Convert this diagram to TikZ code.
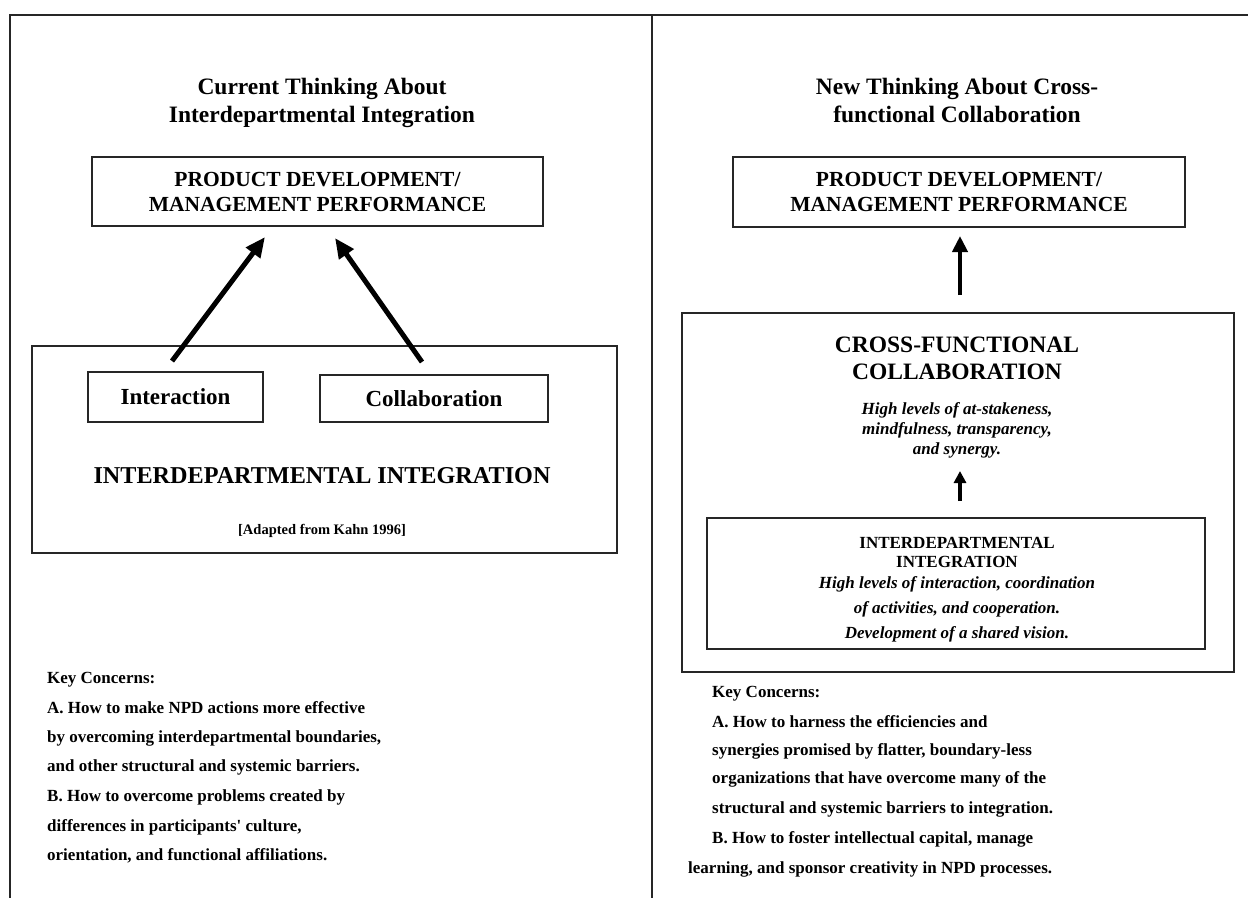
\documentclass[tikz,border=0pt]{standalone}
\usepackage{fontspec}
\setmainfont{Liberation Serif}
\usetikzlibrary{arrows.meta,calc}
\tikzset{
  frame/.style={line width=2pt, draw=black!85},
  box/.style={draw=black!85, line width=2pt, inner sep=0pt},
  ttl/.style={font=\bfseries\fontsize{23.5}{28}\selectfont, align=center, inner sep=0pt},
  pdt/.style={font=\bfseries\fontsize{21.5}{25}\selectfont, align=center},
  big/.style={font=\bfseries\fontsize{23.5}{27}\selectfont, align=center, inner sep=0pt},
  smallit/.style={font=\bfseries\itshape\fontsize{17}{20}\selectfont, align=center, inner sep=0pt},
  kc/.style={font=\bfseries\fontsize{17}{20}\selectfont, anchor=base west, inner sep=0pt},
  arr/.style={line width=5pt, -{Triangle[length=20pt,width=17pt]}},
  varr/.style={line width=4.5pt, -{Triangle[length=16pt,width=15pt]}},
  sarr/.style={line width=4pt, -{Triangle[length=12pt,width=12pt]}}
}
\begin{document}
\begin{tikzpicture}[x=1pt,y=1pt]
\useasboundingbox (0,0) rectangle (1248,-898);
% frame
\draw[frame] (9,-15) -- (1248,-15);
\draw[frame] (10,-15) -- (10,-898);
\draw[frame] (652,-15) -- (652,-898);

% ---------- left panel ----------
\node[ttl] (tl) at (322,-102.5) {\strut Current Thinking About\\\strut Interdepartmental Integration};
\node[box, pdt, minimum width=451pt, minimum height=69pt] (pdL) at (317.5,-191.5)
  {PRODUCT DEVELOPMENT/\\MANAGEMENT PERFORMANCE};
\node[box, minimum width=585pt, minimum height=207pt] (iiL) at (324.5,-449.5) {};
\node[box, font=\bfseries\fontsize{23}{27}\selectfont, minimum width=175pt, minimum height=50pt] (inter) at (175.5,-397) {Interaction};
\node[box, font=\bfseries\fontsize{23}{27}\selectfont, minimum width=228pt, minimum height=47pt] (colab) at (434,-398.5) {Collaboration};
\node[font=\bfseries\fontsize{24.2}{27}\selectfont, inner sep=0pt] (iit) at (322,-476) {INTERDEPARTMENTAL INTEGRATION};
\node[font=\bfseries\fontsize{14.5}{17}\selectfont, inner sep=0pt] (kahn) at (322,-531) {[Adapted from Kahn 1996]};
\draw[arr] ($(inter.north)+(-3.5,10)$) -- ($(pdL.south)+(-52.5,-10)$);
\draw[arr] ($(colab.north)+(-12,12)$) -- ($(pdL.south)+(17.5,-11)$);

\node[kc] (kl1) at (47,-683) {Key Concerns:};
\node[kc] (kl2) at (47,-713) {A. How to make NPD actions more effective};
\node[kc] (kl3) at (47,-742) {by overcoming interdepartmental boundaries,};
\node[kc] (kl4) at (47,-771) {and other structural and systemic barriers.};
\node[kc] (kl5) at (47,-801) {B. How to overcome problems created by};
\node[kc] (kl6) at (47,-831) {differences in participants\textquotesingle{} culture,};
\node[kc] (kl7) at (47,-860) {orientation, and functional affiliations.};

% ---------- right panel ----------
\node[ttl] (tr) at (957,-102.5) {\strut New Thinking About Cross-\\\strut functional Collaboration};
\node[box, pdt, minimum width=452pt, minimum height=70pt] (pdR) at (959,-192)
  {PRODUCT DEVELOPMENT/\\MANAGEMENT PERFORMANCE};
\node[box, minimum width=552pt, minimum height=359pt] (cfb) at (958,-492.5) {};
\node[big] (cft) at (957,-358.5) {CROSS-FUNCTIONAL\\COLLABORATION};
\node[smallit] (cfi) at (957,-430.5) {High levels of at-stakeness,\\mindfulness, transparency,\\and synergy.};
\node[box, minimum width=498pt, minimum height=131pt] (iiR) at (956,-583.5) {};
\node[font=\bfseries\fontsize{17}{19}\selectfont, align=center, inner sep=0pt] (iiRt) at (957,-552.5) {INTERDEPARTMENTAL\\INTEGRATION};
\node[font=\bfseries\itshape\fontsize{17}{25}\selectfont, align=center, inner sep=0pt] (iiRi) at (957,-609)
  {High levels of interaction, coordination\\of activities, and cooperation.\\Development of a shared vision.};
\draw[varr] ($(cfb.north)+(2,17)$) -- ($(pdR.south)+(1,-8)$);
\draw[sarr] ($(iiR.north)+(4,16)$) -- ($(iiR.north)+(4,46)$);

\node[kc] (kr1) at (712,-697) {Key Concerns:};
\node[kc] (kr2) at (712,-727) {A. How to harness the efficiencies and};
\node[kc] (kr3) at (712,-755) {synergies promised by flatter, boundary-less};
\node[kc] (kr4) at (712,-783) {organizations that have overcome many of the};
\node[kc] (kr5) at (712,-813) {structural and systemic barriers to integration.};
\node[kc] (kr6) at (712,-843) {B. How to foster intellectual capital, manage};
\node[kc] (kr7) at (688,-873) {learning, and sponsor creativity in NPD processes.};
\end{tikzpicture}
\end{document}
